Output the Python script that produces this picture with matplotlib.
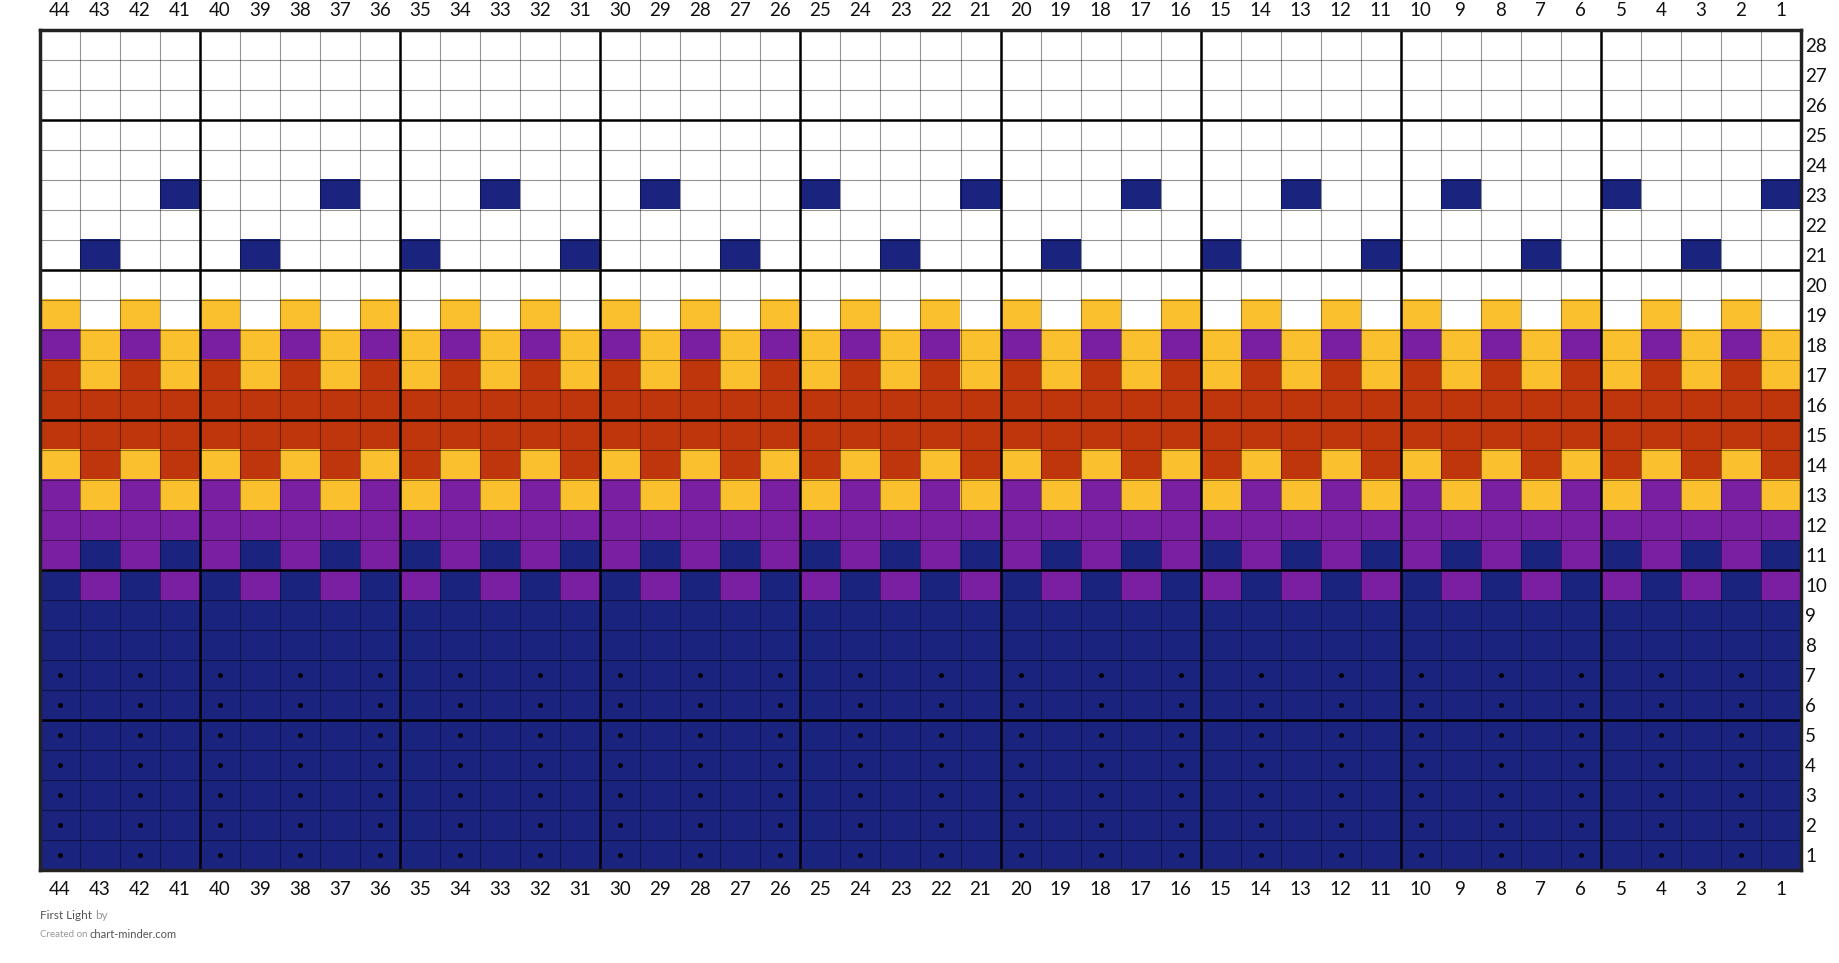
import numpy as np
import matplotlib
matplotlib.use("Agg")
import matplotlib.pyplot as plt
from matplotlib.colors import ListedColormap

plt.rcParams["font.family"] = ["Lato", "DejaVu Sans"]

# chart rows from the top (row 28) down to row 1
# each row reads stitch 44 -> 1, grouped like the 5-stitch blocks of the chart
# N navy, P purple, R rust, Y yellow, W white
rows = [
    "WWWW WWWWW WWWWW WWWWW WWWWW WWWWW WWWWW WWWWW WWWWW",  # 28
    "WWWW WWWWW WWWWW WWWWW WWWWW WWWWW WWWWW WWWWW WWWWW",  # 27
    "WWWW WWWWW WWWWW WWWWW WWWWW WWWWW WWWWW WWWWW WWWWW",  # 26
    "WWWW WWWWW WWWWW WWWWW WWWWW WWWWW WWWWW WWWWW WWWWW",  # 25
    "WWWW WWWWW WWWWW WWWWW WWWWW WWWWW WWWWW WWWWW WWWWW",  # 24
    "WWWN WWWNW WWNWW WNWWW NWWWN WWWNW WWNWW WNWWW NWWWN",  # 23
    "WWWW WWWWW WWWWW WWWWW WWWWW WWWWW WWWWW WWWWW WWWWW",  # 22
    "WNWW WNWWW NWWWN WWWNW WWNWW WNWWW NWWWN WWWNW WWNWW",  # 21
    "WWWW WWWWW WWWWW WWWWW WWWWW WWWWW WWWWW WWWWW WWWWW",  # 20
    "YWYW YWYWY WYWYW YWYWY WYWYW YWYWY WYWYW YWYWY WYWYW",  # 19
    "PYPY PYPYP YPYPY PYPYP YPYPY PYPYP YPYPY PYPYP YPYPY",  # 18
    "RYRY RYRYR YRYRY RYRYR YRYRY RYRYR YRYRY RYRYR YRYRY",  # 17
    "RRRR RRRRR RRRRR RRRRR RRRRR RRRRR RRRRR RRRRR RRRRR",  # 16
    "RRRR RRRRR RRRRR RRRRR RRRRR RRRRR RRRRR RRRRR RRRRR",  # 15
    "YRYR YRYRY RYRYR YRYRY RYRYR YRYRY RYRYR YRYRY RYRYR",  # 14
    "PYPY PYPYP YPYPY PYPYP YPYPY PYPYP YPYPY PYPYP YPYPY",  # 13
    "PPPP PPPPP PPPPP PPPPP PPPPP PPPPP PPPPP PPPPP PPPPP",  # 12
    "PNPN PNPNP NPNPN PNPNP NPNPN PNPNP NPNPN PNPNP NPNPN",  # 11
    "NPNP NPNPN PNPNP NPNPN PNPNP NPNPN PNPNP NPNPN PNPNP",  # 10
    "NNNN NNNNN NNNNN NNNNN NNNNN NNNNN NNNNN NNNNN NNNNN",  # 9
    "NNNN NNNNN NNNNN NNNNN NNNNN NNNNN NNNNN NNNNN NNNNN",  # 8
    "NNNN NNNNN NNNNN NNNNN NNNNN NNNNN NNNNN NNNNN NNNNN",  # 7
    "NNNN NNNNN NNNNN NNNNN NNNNN NNNNN NNNNN NNNNN NNNNN",  # 6
    "NNNN NNNNN NNNNN NNNNN NNNNN NNNNN NNNNN NNNNN NNNNN",  # 5
    "NNNN NNNNN NNNNN NNNNN NNNNN NNNNN NNNNN NNNNN NNNNN",  # 4
    "NNNN NNNNN NNNNN NNNNN NNNNN NNNNN NNNNN NNNNN NNNNN",  # 3
    "NNNN NNNNN NNNNN NNNNN NNNNN NNNNN NNNNN NNNNN NNNNN",  # 2
    "NNNN NNNNN NNNNN NNNNN NNNNN NNNNN NNNNN NNNNN NNNNN",  # 1
]

col_labels = [44, 43, 42, 41, 40, 39, 38, 37, 36, 35, 34, 33, 32, 31, 30,
              29, 28, 27, 26, 25, 24, 23, 22, 21, 20, 19, 18, 17, 16, 15,
              14, 13, 12, 11, 10, 9, 8, 7, 6, 5, 4, 3, 2, 1]
row_labels = [28, 27, 26, 25, 24, 23, 22, 21, 20, 19, 18, 17, 16, 15,
              14, 13, 12, 11, 10, 9, 8, 7, 6, 5, 4, 3, 2, 1]

# purl dots
dot_rows = [1, 2, 3, 4, 5, 6, 7]
dot_cols = [44, 42, 40, 38, 36, 34, 32, 30, 28, 26, 24, 22, 20, 18, 16, 14,
            12, 10, 8, 6, 4, 2]

codes = "NPRYW"
colours = ["#1a237e", "#7b1fa2", "#bf360c", "#fbc02d", "#ffffff"]

grid = np.array([[codes.index(c) for c in r.replace(" ", "")] for r in rows])
n_rows, n_cols = grid.shape

fig = plt.figure(figsize=(18.4, 9.63), dpi=100)
ax = fig.add_axes([40 / 1840, 93 / 963, 1761 / 1840, 840 / 963])

ax.imshow(grid, cmap=ListedColormap(colours), vmin=0, vmax=len(codes) - 1,
          extent=(-0.5, n_cols - 0.5, 0.5, n_rows + 0.5), origin="upper",
          aspect="auto", interpolation="nearest")

# x position of stitch c is 44 - c, y position of row r is r
for k in range(1, n_cols):
    thick = (n_cols - k) % 5 == 0
    ax.axvline(k - 0.5, color="black", lw=1.8 if thick else 0.8,
               alpha=1 if thick else 0.42, zorder=3)
for r in range(1, n_rows):
    thick = r % 5 == 0
    ax.axhline(r + 0.5, color="black", lw=1.8 if thick else 0.8,
               alpha=1 if thick else 0.42, zorder=3)

dx = [n_cols - c for r in dot_rows for c in dot_cols]
dy = [r for r in dot_rows for c in dot_cols]
ax.scatter(dx, dy, s=13, color="black", zorder=4, linewidths=0)

ax.set_xlim(-0.5, n_cols - 0.5)
ax.set_ylim(0.5, n_rows + 0.5)
ax.set_xticks([n_cols - c for c in col_labels])
ax.set_xticklabels([str(c) for c in col_labels])
ax.set_yticks(row_labels)
ax.set_yticklabels([str(r) for r in row_labels])
ax.tick_params(axis="x", top=True, labeltop=True, bottom=True, labelbottom=True,
               length=0, pad=8, labelsize=13.5, labelcolor="#111111")
ax.tick_params(axis="y", left=False, labelleft=False, right=True, labelright=True,
               length=0, pad=3, labelsize=13.5, labelcolor="#111111")
for s in ax.spines.values():
    s.set_linewidth(2.5)
    s.set_color("#222222")
    s.set_zorder(5)

# footer
t1 = fig.text(40 / 1840, 1 - 915 / 963, "First Light", fontsize=8.5,
              color="#555555", va="center")
ax.annotate("by", xy=(1, 0.5), xycoords=t1, xytext=(2.5, 0),
            textcoords="offset points", fontsize=8.5, color="#999999",
            va="center", annotation_clip=False)
t2 = fig.text(40 / 1840, 1 - 934 / 963, "Created on", fontsize=7,
              color="#999999", va="center")
ax.annotate("chart-minder.com", xy=(1, 0.5), xycoords=t2, xytext=(1.5, 0),
            textcoords="offset points", fontsize=8, color="#555555",
            va="center", annotation_clip=False)

fig.savefig("out.png", dpi=100)
